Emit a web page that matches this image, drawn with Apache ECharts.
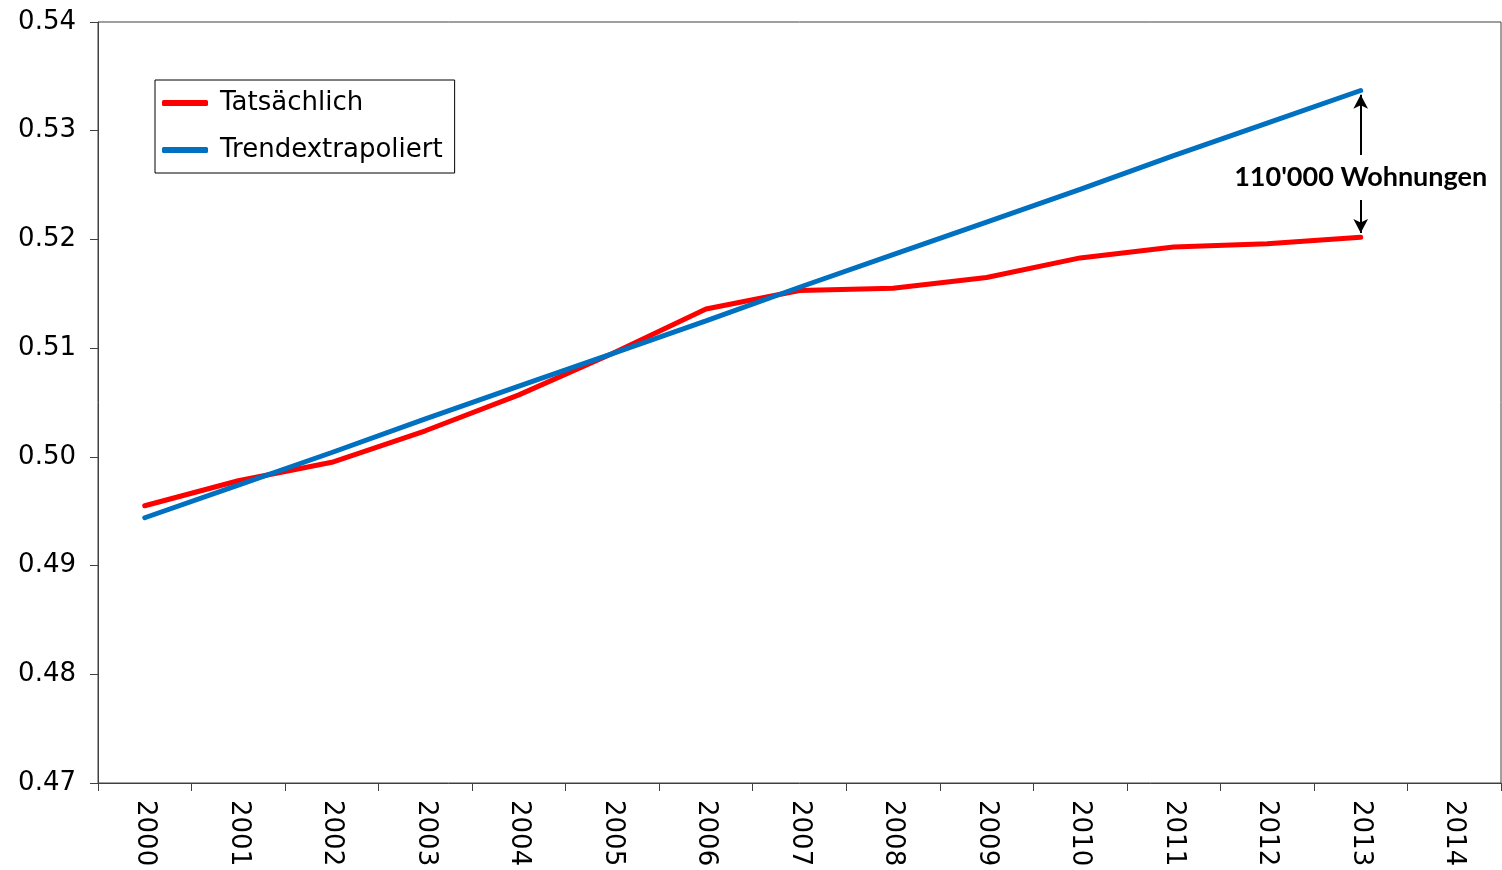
<!DOCTYPE html>
<html>
<head>
<meta charset="utf-8">
<script src="https://cdn.jsdelivr.net/npm/echarts@6/dist/echarts.min.js"></script>
<style>
html, body { margin: 0; padding: 0; background: #fff; }
#main { width: 1502px; height: 870px; }
</style>
</head>
<body>
<div id="main"></div>
<script>
var years = ['2000','2001','2002','2003','2004','2005','2006','2007','2008','2009','2010','2011','2012','2013','2014'];
var actualData = [0.4955, 0.4978, 0.4995, 0.5024, 0.5057, 0.5095, 0.5136, 0.5153, 0.5155, 0.5165, 0.5183, 0.5193, 0.5196, 0.5202];
var trendData = [0.4944, 0.4974, 0.5004, 0.5035, 0.5065, 0.5095, 0.5125, 0.5156, 0.5186, 0.5216, 0.5246, 0.5277, 0.5307, 0.5337];
var seriesNames = ['Tatsächlich', 'Trendextrapoliert'];
var gapLabel = "110'000 Wohnungen";
var gapYear = '2013';
var gapLabelValue = 0.5257;

trend_lineChart = {
	option: null,
	chart: null,
	initData: function (div) {
		this.chart = echarts.init(div);
		var axisColor = '#404040';
		var lastActual = actualData[actualData.length - 1];
		var lastTrend = trendData[trendData.length - 1];
		this.option = {
			animation: false,
			textStyle: { fontFamily: 'DejaVu Sans' },
			grid: {
				left: 98, right: 1, top: 22, bottom: 87,
				show: true, borderColor: axisColor, borderWidth: 1
			},
			legend: {
				data: seriesNames,
				orient: 'vertical',
				left: 155, top: 80,
				padding: [10, 12, 10, 7],
				itemGap: 21,
				itemWidth: 46, itemHeight: 6,
				icon: 'roundRect',
				borderColor: '#000', borderWidth: 1,
				textStyle: { fontSize: 26, color: '#000', padding: [0, 0, 0, 7], fontFamily: 'DejaVu Sans' }
			},
			xAxis: {
				type: 'category',
				data: years,
				boundaryGap: true,
				axisLine: { lineStyle: { color: axisColor } },
				axisTick: { show: true, interval: 0, length: 8, lineStyle: { color: axisColor } },
				axisLabel: { rotate: -90, interval: 0, margin: 17, fontSize: 26, color: '#000', fontFamily: 'DejaVu Sans' },
				splitLine: { show: false }
			},
			yAxis: {
				type: 'value',
				min: 0.47, max: 0.54, interval: 0.01,
				axisLine: { show: true, lineStyle: { color: axisColor } },
				axisTick: { show: true, length: 8, lineStyle: { color: axisColor } },
				axisLabel: {
					margin: 22, fontSize: 26, color: '#000', fontFamily: 'DejaVu Sans',
					formatter: function (v) { return v.toFixed(2); }
				},
				splitLine: { show: false }
			},
			series: [
				{
					name: seriesNames[0],
					type: 'line',
					data: actualData,
					symbol: 'none',
					itemStyle: { color: '#ff0000' },
					lineStyle: { width: 5, color: '#ff0000', cap: 'round' },
					z: 2
				},
				{
					name: seriesNames[1],
					type: 'line',
					data: trendData,
					symbol: 'none',
					itemStyle: { color: '#0070c0' },
					lineStyle: { width: 5, color: '#0070c0', cap: 'round' },
					z: 3,
					markLine: {
						silent: true,
						symbol: ['arrow', 'arrow'],
						symbolSize: [11, 14],
						label: { show: false },
						lineStyle: { color: '#000', width: 2, type: 'solid' },
						data: [[
							{ coord: [gapYear, lastTrend - 0.0004] },
							{ coord: [gapYear, lastActual + 0.0004] }
						]]
					},
					markPoint: {
						silent: true,
						symbol: 'circle', symbolSize: 0,
						data: [{ coord: [gapYear, gapLabelValue] }],
						label: {
							show: true,
							formatter: gapLabel,
							position: 'inside',
							fontFamily: 'Lato', fontWeight: 'bold', fontSize: 27, color: '#000',
							backgroundColor: '#fff',
							padding: [14, 2, 4, 2]
						},
						z: 10
					}
				}
			]
		};
		this.view();
	},
	view: function () {
		this.chart.setOption(this.option, true);
	}
};

trend_lineChart.initData(document.getElementById('main'));
</script>
</body>
</html>
